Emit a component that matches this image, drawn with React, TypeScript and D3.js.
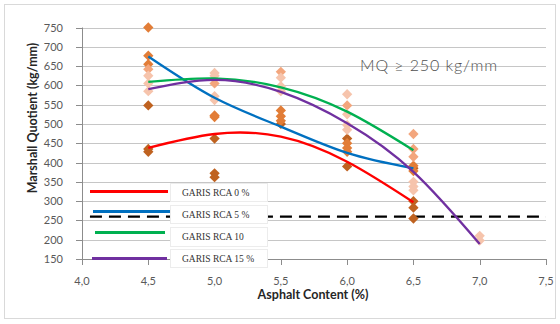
import React from 'react';
import * as d3 from 'd3';

// scatter points, per marker colour
const darkPts = [
  { x: 4.5, v: 548 }, { x: 4.5, v: 435 }, { x: 4.5, v: 428 },
  { x: 5.0, v: 462 }, { x: 5.0, v: 372 }, { x: 5.0, v: 362 },
  { x: 5.5, v: 500 },
  { x: 6.0, v: 462 }, { x: 6.0, v: 390 },
  { x: 6.5, v: 385 }, { x: 6.5, v: 300 }, { x: 6.5, v: 283 }, { x: 6.5, v: 255 },
];
const orangePts = [
  { x: 4.5, v: 750 }, { x: 4.5, v: 677 }, { x: 4.5, v: 655 },
  { x: 5.0, v: 522 }, { x: 5.0, v: 518 },
  { x: 5.5, v: 535 }, { x: 5.5, v: 520 }, { x: 5.5, v: 508 },
  { x: 6.0, v: 450 }, { x: 6.0, v: 438 }, { x: 6.0, v: 428 },
  { x: 6.5, v: 392 }, { x: 6.5, v: 378 },
];
const lightPts = [
  { x: 4.5, v: 642 },
  { x: 5.0, v: 605 },
  { x: 5.5, v: 635 },
  { x: 6.0, v: 548 },
  { x: 6.5, v: 474 }, { x: 6.5, v: 435 }, { x: 6.5, v: 415 },
];
const pinkPts = [
  { x: 4.5, v: 625 }, { x: 4.5, v: 605 }, { x: 4.5, v: 585 },
  { x: 5.0, v: 632 }, { x: 5.0, v: 625 }, { x: 5.0, v: 572 }, { x: 5.0, v: 562 },
  { x: 5.5, v: 620 }, { x: 5.5, v: 598 }, { x: 5.5, v: 585 },
  { x: 6.0, v: 577 }, { x: 6.0, v: 525 }, { x: 6.0, v: 497 }, { x: 6.0, v: 485 },
  { x: 6.5, v: 350 }, { x: 6.5, v: 338 }, { x: 6.5, v: 328 },
  { x: 7.0, v: 210 }, { x: 7.0, v: 198 },
];

// trend lines (GARIS = line)
const trendX = [4.5, 5.0, 5.5, 6.0, 6.5, 7.0];
const rca0 = [438, 474, 467, 402, 297];
const rca5 = [675, 568, 493, 425, 385];
const rca10 = [609, 618, 595, 532, 432];
const rca15 = [590, 614, 583, 502, 376, 189];

const legendNames = ['GARIS RCA 0 %', 'GARIS RCA 5 %', 'GARIS RCA 10', 'GARIS RCA 15 %'];
const limitValue = 260;
const xTicks = [4.0, 4.5, 5.0, 5.5, 6.0, 6.5, 7.0, 7.5];
const yTicks = [150, 200, 250, 300, 350, 400, 450, 500, 550, 600, 650, 700, 750];

export default function App() {
  const width = 560;
  const height = 324;

  const x = d3.scaleLinear().domain([4, 7.5]).range([82, 546]);
  const y = d3.scaleLinear().domain([150, 750]).range([259, 27.5]);

  const diamond = d3.symbol().type(d3.symbolDiamond2).size(68)();

  const line = d3.line<number>()
    .x((d, i) => x(trendX[i]))
    .y((d) => y(d))
    .curve(d3.curveNatural);

  const fmt = (d: number) => d.toFixed(1).replace('.', ',');

  const scatter = [
    { pts: darkPts, color: '#BF6220' },
    { pts: orangePts, color: '#E27D37' },
    { pts: lightPts, color: '#F3A67D' },
    { pts: pinkPts, color: '#F6C4AC' },
  ];

  const trends = [
    { vals: rca0, color: '#FF0000' },
    { vals: rca5, color: '#0070C0' },
    { vals: rca10, color: '#00B050' },
    { vals: rca15, color: '#7030A0' },
  ];

  // legend layout (shapes on the chart)
  const legend = [
    { x1: 90, x2: 168, ly: 191.5, by: 183, bh: 18 },
    { x1: 93, x2: 170, ly: 211.5, by: 205, bh: 18 },
    { x1: 95, x2: 165, ly: 232.5, by: 227, bh: 19 },
    { x1: 92, x2: 167, ly: 258.5, by: 249, bh: 18 },
  ];

  const tickFont = 'Lato, "Open Sans", sans-serif';

  return (
    <svg width={width} height={height} style={{ position: 'absolute', left: 0, top: 0, background: '#fff' }}>
      <rect x={0} y={0} width={width} height={height} fill="#fff" />
      <rect x={4.5} y={4.5} width={551} height={314} fill="none" stroke="#d9d9d9" />

      {/* gridlines */}
      {yTicks.slice(1).map((t) => (
        <line key={t} x1={x(4)} x2={x(7.5)} y1={Math.round(y(t)) + 0.5} y2={Math.round(y(t)) + 0.5} stroke="#c6c6c6" />
      ))}

      {/* axes */}
      <line x1={82.5} x2={82.5} y1={y(750)} y2={y(150)} stroke="#8c8c8c" />
      <line x1={x(4)} x2={x(7.5)} y1={259.5} y2={259.5} stroke="#8c8c8c" />
      {yTicks.map((t) => (
        <g key={t}>
          <line x1={76} x2={82} y1={Math.round(y(t)) + 0.5} y2={Math.round(y(t)) + 0.5} stroke="#8c8c8c" />
          <text x={63} y={y(t) + 4} textAnchor="end" fontFamily={tickFont} fontSize={11} fill="#595959">{t}</text>
        </g>
      ))}
      {xTicks.map((t) => (
        <g key={t}>
          <line x1={Math.round(x(t)) + 0.5} x2={Math.round(x(t)) + 0.5} y1={259} y2={265} stroke="#8c8c8c" />
          <text x={x(t)} y={285} textAnchor="middle" fontFamily={tickFont} fontSize={11} fill="#595959">{fmt(t)}</text>
        </g>
      ))}

      <text transform={`translate(37,${118}) rotate(-90)`} textAnchor="middle" fontFamily={tickFont} fontWeight="bold" fontSize={12.5} fill="#262626">Marshall Quotient (kg/mm)</text>
      <text x={313} y={299} textAnchor="middle" fontFamily={tickFont} fontWeight="bold" fontSize={12.5} fill="#262626">Asphalt Content (%)</text>

      {/* limit line */}
      <line x1={x(4.06)} x2={x(7.5)} y1={y(limitValue)} y2={y(limitValue)} stroke="#000" strokeWidth={2.2} strokeDasharray="12,7" />

      {/* points */}
      {scatter.map((s, si) => (
        <g key={si}>
          {s.pts.map((p, i) => (
            <path key={i} d={diamond!} transform={`translate(${x(p.x)},${y(p.v)})`} fill={s.color} />
          ))}
        </g>
      ))}

      {/* trend lines */}
      {trends.map((t, i) => (
        <path key={i} d={line(t.vals)!} fill="none" stroke={t.color} strokeWidth={2.3} />
      ))}

      <text x={360} y={71} fontFamily={tickFont} fontWeight={300} fontSize={16} letterSpacing={0.9} fill="#505050">MQ ≥ 250 kg/mm</text>

      {/* legend */}
      {legend.map((l, i) => (
        <g key={i}>
          <line x1={l.x1} x2={l.x2} y1={l.ly} y2={l.ly} stroke={trends[i].color} strokeWidth={2.8} />
          <rect x={170.5} y={l.by + 0.5} width={97} height={l.bh} fill="#fff" stroke="#ececec" />
          <text x={182} y={l.by + l.bh / 2 + 3.5} fontFamily='"Liberation Serif", "DejaVu Serif", serif' fontSize={9.5} fill="#333">{legendNames[i]}</text>
        </g>
      ))}
    </svg>
  );
}
